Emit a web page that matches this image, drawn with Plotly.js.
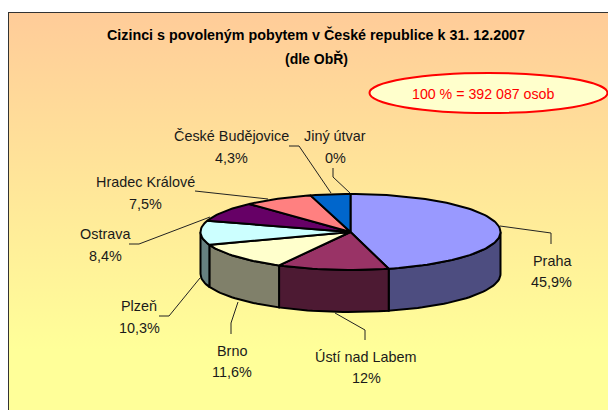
<!DOCTYPE html>
<html>
<head>
<meta charset="utf-8">
<script src="https://cdn.plot.ly/plotly-3.0.1.min.js"></script>
<style>
html,body{margin:0;padding:0;background:#fff;overflow:hidden}
#frame{position:absolute;left:8px;top:12px;width:600px;height:398px;box-sizing:border-box;
border-left:1.5px solid #333;border-top:1.5px solid #333;
background:linear-gradient(to bottom,#FFCC99 0%,#FFFF99 85%,#FFFF99 100%)}
#chart{position:absolute;left:0;top:0;width:608px;height:410px}
</style>
</head>
<body>
<div id="frame"></div>
<div id="chart"></div>
<script>
// Data
const categories = ["Praha","Ústí nad Labem","Brno","Plzeň","Ostrava","Hradec Králové","České Budějovice","Jiný útvar"];
const shares = [45.9,12,11.6,10.3,8.4,7.5,4.3,0];
const shareLabels = ["45,9%","12%","11,6%","10,3%","8,4%","7,5%","4,3%","0%"];
const topColors = ["#9999FF","#993366","#FFFFCC","#CCFFFF","#660066","#FF8080","#0066CC","#CCCCFF"];
const wallColors = ["#4D4D80","#4D1A33","#80806A","#668080","#330033","#804040","#003366","#666680"];
const titleLine1 = "Cizinci s povoleným pobytem v České republice k 31. 12.2007";
const titleLine2 = "(dle ObŘ)";
const totalNote = "100 % = 392 087 osob";

// Layout of the drawing (pixel-like axis units)
const cx = 350.5, cy = 232, rx = 150, ry = 38, depth = 42;
const total = shares.reduce((a,b)=>a+b,0);
const px = d => cx + rx*Math.sin(d*Math.PI/180);
const py = d => cy - ry*Math.cos(d*Math.PI/180);

function arc(a,b){ const out=[]; const n=Math.max(2,Math.ceil(Math.abs(b-a)/2));
  for(let i=0;i<=n;i++) out.push(a+(b-a)*i/n); return out; }

const traces = [];
const outline = {color:"#000",width:2};
let ang = 0; const spans = [];
shares.forEach(v=>{ const e = ang+v/total*360; spans.push([ang,e]); ang=e; });

// side walls (front half only)
spans.forEach((s,i)=>{
  const a=Math.max(s[0],90), b=Math.min(s[1],270);
  if(b<=a) return;
  const t=arc(a,b), r=t.slice().reverse();
  traces.push({type:"scatter",mode:"lines",fill:"toself",fillcolor:wallColors[i],line:outline,
    x:[...t.map(px),...r.map(px),px(a)],
    y:[...t.map(py),...r.map(d=>py(d)+depth),py(a)],
    hoverinfo:"skip",showlegend:false});
});
// top face wedges
spans.forEach((s,i)=>{
  if(s[1]<=s[0]) return;
  const t=arc(s[0],s[1]);
  traces.push({type:"scatter",mode:"lines",fill:"toself",fillcolor:topColors[i],line:outline,
    x:[cx,...t.map(px),cx],y:[cy,...t.map(py),cy],
    name:categories[i],text:shareLabels[i],hoverinfo:"name+text",showlegend:false});
});

const labelPos = [[551.5,260.5,282],[366,356.5,378],[231.5,350.5,372],[139,306,328],[105,234,256],[145.5,182,204],[231,136,158],[335,136,158]];
const leaders = [
 "M500,226L551,233L551,244","M335,313L365,330L365,340","M238,302L231,323L231,334",
 "M200,278L169,316L159,316","M210,217L139,244L129,244","M268,199L195,191",
 "M331,193L299,146L289,146","M350,193L333,177L333,168"];

const annotations=[];
categories.forEach((c,i)=>{
  const p=labelPos[i];
  const base={xref:"x",yref:"y",x:p[0],showarrow:false,xanchor:"center",yanchor:"middle",
    font:{family:"Liberation Sans",size:14.4,color:"#1a1a1a"}};
  annotations.push({...base,y:p[1],text:c});
  annotations.push({...base,y:p[2],text:shareLabels[i]});
});
annotations.push({xref:"x",yref:"y",x:316,y:58,text:titleLine2,showarrow:false,xanchor:"center",yanchor:"middle",
  font:{family:"Liberation Sans",size:14,color:"#000",weight:"bold"}});
annotations.push({xref:"x",yref:"y",x:483,y:94,text:totalNote,showarrow:false,xanchor:"center",yanchor:"middle",
  font:{family:"Liberation Sans",size:14.2,color:"#FF0000"}});

const shapes = leaders.map(d=>({type:"path",path:d,xref:"x",yref:"y",line:{color:"#222",width:1},layer:"below"}));
shapes.push({type:"circle",xref:"x",yref:"y",x0:369.5,x1:607.5,y0:73,y1:113,fillcolor:"#FFFFCC",line:{color:"#FF0000",width:2},layer:"below"});

const layout = {
  width:608,height:410,margin:{l:0,r:0,t:0,b:0},
  paper_bgcolor:"rgba(0,0,0,0)",plot_bgcolor:"rgba(0,0,0,0)",
  xaxis:{range:[0,608],visible:false,fixedrange:true},
  yaxis:{range:[410,0],visible:false,fixedrange:true},
  title:{text:titleLine1,x:316/608,xanchor:"center",y:1-35/410,yanchor:"middle",
    font:{family:"Liberation Sans",size:14.3,color:"#000",weight:"bold"}},
  annotations,shapes,showlegend:false
};
Plotly.newPlot("chart",traces,layout,{displayModeBar:false,staticPlot:false});
</script>
</body>
</html>
